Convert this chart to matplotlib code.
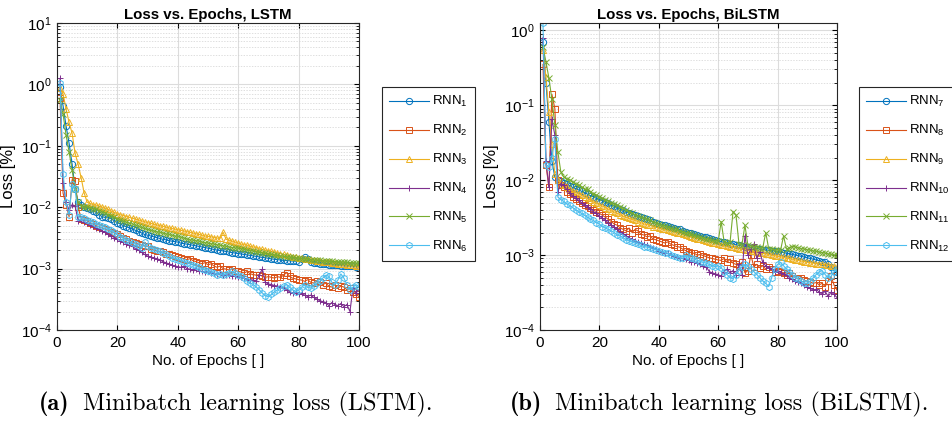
import numpy as np
import matplotlib
matplotlib.use("Agg")
import matplotlib.pyplot as plt
from matplotlib.ticker import LogLocator, NullFormatter

# =========================
# DATA  (loss values in units of 1e-3 %, epochs 1..100)
# =========================
epochs = np.arange(1, 101)

# --- LSTM ---
rnn1 = [900, 450, 210, 110, 50, 20, 12, 11, 10.2, 9.8,
        9.2, 8.8, 8.2, 7.5, 7.0, 6.8, 6.7, 6.5, 6.0, 5.6,
        5.3, 5.0, 4.8, 4.6, 4.4, 4.2, 4.0, 3.8, 3.6, 3.5,
        3.4, 3.3, 3.2, 3.1, 3.0, 2.95, 2.85, 2.8, 2.75, 2.7,
        2.6, 2.55, 2.5, 2.45, 2.4, 2.35, 2.3, 2.25, 2.2, 2.15,
        2.1, 2.05, 2.0, 1.97, 1.94, 1.9, 1.86, 1.82, 1.79, 1.76,
        1.73, 1.7, 1.67, 1.64, 1.61, 1.58, 1.55, 1.52, 1.5, 1.47,
        1.44, 1.42, 1.4, 1.38, 1.36, 1.35, 1.34, 1.33, 1.32, 1.30,
        1.45, 1.55, 1.42, 1.30, 1.25, 1.22, 1.20, 1.18, 1.17, 1.16,
        1.15, 1.14, 1.13, 1.12, 1.11, 1.10, 1.10, 1.09, 1.08, 1.10]
rnn2 = [600, 17, 11, 7, 28, 27, 10, 6.5, 6.3, 6.0,
        5.6, 5.3, 5.0, 4.8, 4.6, 4.4, 4.2, 4.0, 3.8, 3.6,
        3.4, 3.2, 3.0, 2.8, 2.75, 2.6, 2.5, 2.4, 2.35, 2.3,
        2.1, 2.0, 1.95, 1.9, 1.85, 1.75, 1.7, 1.65, 1.6, 1.55,
        1.5, 1.45, 1.4, 1.45, 1.35, 1.3, 1.25, 1.2, 1.25, 1.15,
        1.2, 1.1, 1.05, 1.1, 1.0, 0.98, 0.95, 1.0, 0.92, 0.9,
        0.88, 0.85, 0.9, 0.82, 0.8, 0.78, 0.8, 0.75, 0.72, 0.74,
        0.72, 0.7, 0.74, 0.72, 0.78, 0.86, 0.75, 0.7, 0.68, 0.66,
        0.65, 0.62, 0.66, 0.6, 0.58, 0.62, 0.6, 0.55, 0.58, 0.52,
        0.5, 0.55, 0.48, 0.52, 0.5, 0.45, 0.48, 0.42, 0.38, 0.35]
rnn3 = [880, 700, 400, 240, 160, 75, 50, 30, 17, 12,
        11.5, 11, 10.8, 10.4, 10.0, 9.6, 9.2, 8.6, 8.2, 7.8,
        7.5, 7.3, 7.0, 6.8, 6.6, 6.4, 6.2, 6.0, 5.8, 5.6,
        5.45, 5.3, 5.15, 5.0, 4.9, 4.75, 4.6, 4.5, 4.4, 4.3,
        4.2, 4.1, 4.0, 3.9, 3.8, 3.7, 3.6, 3.5, 3.4, 3.35,
        3.3, 3.2, 3.15, 3.1, 3.9, 3.0, 2.9, 2.8, 2.7, 2.6,
        2.5, 2.45, 2.4, 2.3, 2.25, 2.2, 2.1, 2.05, 2.0, 1.95,
        1.9, 1.85, 1.8, 1.75, 1.7, 1.65, 1.6, 1.56, 1.53, 1.5,
        1.47, 1.45, 1.42, 1.4, 1.37, 1.35, 1.33, 1.3, 1.28, 1.26,
        1.24, 1.22, 1.2, 1.19, 1.18, 1.16, 1.14, 1.13, 1.12, 1.11]
rnn4 = [1250, 25, 12, 9, 11, 10.5, 6, 6.2, 5.8, 5.5,
        5.2, 4.9, 4.6, 4.4, 4.1, 3.9, 3.6, 3.4, 3.2, 3.0,
        2.85, 2.7, 2.55, 2.4, 2.3, 2.1, 2.0, 1.85, 1.7, 1.6,
        1.55, 1.5, 1.45, 1.4, 1.3, 1.25, 1.2, 1.15, 1.1, 1.08,
        1.05, 1.1, 1.0, 0.98, 0.95, 1.0, 0.92, 0.9, 0.88, 0.9,
        0.86, 0.85, 0.82, 0.84, 0.8, 0.78, 0.8, 0.76, 0.75, 0.74,
        0.72, 0.7, 0.68, 0.66, 0.65, 0.62, 0.8, 0.98, 0.6, 0.56,
        0.55, 0.53, 0.52, 0.5, 0.48, 0.45, 0.42, 0.4, 0.41, 0.38,
        0.4, 0.37, 0.35, 0.37, 0.34, 0.32, 0.3, 0.29, 0.28, 0.25,
        0.28, 0.26, 0.25, 0.27, 0.24, 0.26, 0.2, 0.48, 0.4, 0.45]
rnn5 = [560, 330, 150, 80, 40, 20, 12, 10.5, 10.2, 10,
        9.8, 9.5, 9.2, 8.8, 8.4, 8.0, 7.6, 7.2, 6.8, 6.5,
        6.2, 5.9, 5.7, 5.5, 5.3, 5.1, 4.9, 4.7, 4.5, 4.35,
        4.2, 4.1, 4.0, 3.9, 3.8, 3.7, 3.6, 3.5, 3.4, 3.35,
        3.25, 3.15, 3.05, 2.95, 2.9, 2.85, 2.8, 2.7, 2.65, 2.6,
        2.55, 2.5, 2.45, 2.4, 2.35, 2.3, 2.25, 2.2, 2.17, 2.14,
        2.1, 2.05, 2.0, 1.96, 1.92, 1.88, 1.84, 1.8, 1.77, 1.74,
        1.7, 1.67, 1.64, 1.61, 1.58, 1.56, 1.54, 1.52, 1.5, 1.48,
        1.46, 1.44, 1.42, 1.4, 1.38, 1.37, 1.36, 1.34, 1.33, 1.32,
        1.31, 1.3, 1.29, 1.28, 1.27, 1.26, 1.25, 1.24, 1.23, 1.22]
rnn6 = [1050, 35, 12, 7.5, 24, 20, 7, 6.8, 6.6, 6.3,
        6.0, 5.7, 5.4, 5.1, 4.9, 4.7, 4.4, 4.2, 3.9, 3.6,
        3.3, 3.1, 2.9, 2.8, 2.6, 2.5, 2.3, 2.2, 2.7, 2.3,
        2.2, 2.1, 2.0, 1.9, 1.8, 1.7, 1.6, 1.5, 1.45, 1.4,
        1.35, 1.3, 1.25, 1.2, 1.15, 1.1, 1.05, 1.0, 0.95, 0.9,
        0.88, 0.85, 0.8, 0.82, 0.78, 0.82, 0.86, 0.9, 0.85, 0.8,
        0.75, 0.7, 0.62, 0.58, 0.55, 0.5, 0.45, 0.4, 0.36, 0.35,
        0.38, 0.42, 0.45, 0.48, 0.52, 0.55, 0.5, 0.45, 0.42, 0.45,
        0.5, 0.55, 0.5, 0.48, 0.52, 0.58, 0.62, 0.7, 0.78, 0.75,
        0.6, 0.55, 0.65, 0.82, 0.7, 0.55, 0.45, 0.5, 0.55, 0.5]

# --- BiLSTM ---
rnn7 = [700, 200, 60, 18, 11, 10, 9.6, 9.2, 8.8, 8.4,
        8.0, 7.7, 7.4, 7.1, 6.8, 6.5, 6.2, 6.0, 5.7, 5.5,
        5.3, 5.1, 4.9, 4.7, 4.5, 4.3, 4.1, 3.95, 3.8, 3.65,
        3.5, 3.4, 3.3, 3.2, 3.1, 3.0, 2.9, 2.8, 2.7, 2.6,
        2.55, 2.5, 2.45, 2.4, 2.3, 2.25, 2.2, 2.1, 2.05, 2.0,
        1.95, 1.9, 1.85, 1.8, 1.75, 1.72, 1.68, 1.65, 1.6, 1.55,
        1.5, 1.48, 1.45, 1.42, 1.4, 1.37, 1.35, 1.32, 1.3, 1.28,
        1.26, 1.24, 1.22, 1.2, 1.18, 1.17, 1.16, 1.15, 1.14, 1.12,
        1.1, 1.08, 1.06, 1.04, 1.02, 1.0, 0.98, 0.96, 0.94, 0.92,
        0.9, 0.88, 0.86, 0.84, 0.82, 0.8, 0.75, 0.7, 0.62, 0.6]
rnn8 = [350, 16, 8, 140, 90, 10, 8.5, 8.0, 7.0, 6.5,
        6.0, 5.6, 5.2, 5.0, 4.7, 4.5, 4.2, 4.0, 3.8, 3.6,
        3.4, 3.2, 3.0, 2.8, 2.6, 2.5, 2.3, 2.2, 2.1, 2.3,
        2.0, 2.2, 2.1, 1.9, 1.85, 1.75, 1.8, 1.65, 1.6, 1.55,
        1.5, 1.45, 1.5, 1.4, 1.35, 1.3, 1.28, 1.2, 1.15, 1.1,
        1.08, 1.05, 1.0, 1.02, 0.98, 0.95, 0.92, 0.9, 0.88, 0.86,
        0.85, 0.9, 0.8, 0.88, 0.78, 0.75, 0.72, 0.8, 0.58, 0.62,
        1.0, 0.7, 0.75, 0.68, 0.72, 0.65, 0.7, 0.66, 0.6, 0.62,
        0.6, 0.58, 0.55, 0.58, 0.52, 0.5, 0.48, 0.5, 0.46, 0.45,
        0.44, 0.42, 0.43, 0.4, 0.42, 0.38, 0.45, 0.52, 0.4, 0.34]
rnn9 = [550, 240, 80, 30, 12, 10, 9.0, 8.5, 8.0, 7.6,
        7.2, 6.9, 6.6, 6.3, 6.0, 5.7, 5.4, 5.1, 4.9, 4.7,
        4.5, 4.3, 4.1, 3.9, 3.75, 3.6, 3.45, 3.3, 3.2, 3.1,
        3.0, 2.9, 2.8, 2.7, 2.6, 2.55, 2.5, 2.4, 2.35, 2.3,
        2.25, 2.2, 2.15, 2.1, 2.05, 2.0, 1.95, 1.9, 1.85, 1.8,
        1.75, 1.7, 1.66, 1.62, 1.58, 1.54, 1.5, 1.47, 1.44, 1.41,
        1.38, 1.35, 1.32, 1.3, 1.27, 1.25, 1.22, 1.2, 1.18, 1.16,
        1.14, 1.12, 1.1, 1.08, 1.06, 1.04, 1.02, 1.0, 0.98, 0.96,
        0.95, 0.93, 0.91, 0.9, 0.88, 0.86, 0.85, 0.83, 0.82, 0.8,
        0.79, 0.78, 0.77, 0.76, 0.75, 0.74, 0.73, 0.72, 0.71, 0.7]
rnn10 = [800, 18, 8, 65, 40, 7, 9, 8.5, 7.5, 6.8,
         6.2, 5.8, 5.4, 5.0, 4.7, 4.4, 4.1, 3.8, 3.6, 3.3,
         3.1, 2.9, 2.7, 2.5, 2.35, 2.2, 2.05, 1.9, 1.8, 1.7,
         1.62, 1.55, 1.5, 1.45, 1.4, 1.35, 1.3, 1.25, 1.2, 1.15,
         1.1, 1.08, 1.05, 1.0, 0.98, 0.95, 0.92, 0.9, 0.88, 0.85,
         0.82, 0.8, 0.78, 0.75, 0.72, 0.7, 0.6, 0.58, 0.56, 0.55,
         0.52, 0.6, 0.65, 0.58, 0.62, 0.55, 0.75, 0.55, 1.8, 1.0,
         1.2, 1.4, 0.9, 1.1, 0.8, 0.72, 0.68, 0.65, 0.6, 0.62,
         0.58, 0.56, 0.54, 0.5, 0.48, 0.45, 0.44, 0.42, 0.4, 0.38,
         0.36, 0.34, 0.35, 0.32, 0.3, 0.33, 0.28, 0.32, 0.3, 0.27]
rnn11 = [600, 380, 230, 120, 55, 24, 13, 11, 10.5, 10,
         9.5, 9.0, 8.5, 8.0, 7.6, 7.5, 7.0, 6.6, 6.3, 6.0,
         5.7, 5.5, 5.3, 5.0, 4.8, 4.6, 4.4, 4.2, 4.0, 3.8,
         3.6, 3.45, 3.3, 3.2, 3.1, 3.0, 2.9, 2.8, 2.7, 2.6,
         2.5, 2.45, 2.4, 2.3, 2.25, 2.2, 2.1, 2.05, 2.0, 1.95,
         1.9, 1.85, 1.8, 1.75, 1.7, 1.66, 1.62, 1.58, 1.55, 1.52,
         2.8, 1.5, 1.45, 1.5, 3.8, 3.4, 1.4, 1.38, 2.5, 1.35,
         1.33, 1.3, 1.28, 1.26, 1.24, 2.0, 1.22, 1.2, 1.18, 1.17,
         1.16, 1.8, 1.2, 1.25, 1.3, 1.28, 1.25, 1.22, 1.2, 1.18,
         1.16, 1.14, 1.12, 1.1, 1.08, 1.06, 1.04, 1.02, 1.0, 1.0]
rnn12 = [1250, 16, 15, 20, 35, 6, 5.5, 5.2, 4.8, 4.6,
         4.3, 4.0, 3.8, 3.6, 3.4, 3.2, 3.0, 2.9, 2.7, 2.6,
         2.4, 2.3, 2.2, 2.1, 2.0, 1.85, 1.8, 1.7, 1.6, 1.55,
         1.5, 1.45, 1.4, 1.35, 1.3, 1.28, 1.25, 1.2, 1.18, 1.15,
         1.1, 1.08, 1.05, 1.0, 0.98, 0.95, 0.92, 0.9, 1.0, 0.95,
         0.9, 0.88, 0.85, 0.82, 0.8, 0.78, 0.75, 0.72, 0.7, 0.72,
         0.68, 0.6, 0.55, 0.5, 0.48, 0.55, 0.62, 0.7, 0.75, 0.72,
         0.65, 0.6, 0.55, 0.5, 0.45, 0.42, 0.38, 0.5, 0.65, 0.75,
         0.8, 0.72, 0.65, 0.6, 0.55, 0.5, 0.48, 0.45, 0.42, 0.42,
         0.45, 0.5, 0.55, 0.6, 0.62, 0.55, 0.5, 0.52, 0.6, 0.65]

lstm_series = [rnn1, rnn2, rnn3, rnn4, rnn5, rnn6]
bilstm_series = [rnn7, rnn8, rnn9, rnn10, rnn11, rnn12]
lstm_labels = [r"RNN$_{%d}$" % i for i in range(1, 7)]
bilstm_labels = [r"RNN$_{%d}$" % i for i in range(7, 13)]

# =========================
# STYLE
# =========================
COLORS = ["#0072BD", "#D95319", "#EDB120", "#7E2F8E", "#77AC30", "#4DBEEE"]
MARKERS = ["o", "s", "^", "+", "x", "h"]

plt.rcParams["font.family"] = ["Liberation Sans", "DejaVu Sans"]
plt.rcParams["mathtext.default"] = "regular"
plt.rcParams["font.size"] = 10

W, H = 952, 429
fig = plt.figure(figsize=(W / 100, H / 100), dpi=100)


def draw_panel(rect, series, labels, title, ytop, legend_xy):
    ax = fig.add_axes(rect)
    for vals, lab, c, m in zip(series, labels, COLORS, MARKERS):
        ax.plot(epochs, np.array(vals) * 1e-3, color=c, marker=m, ms=4.5,
                mfc="none", mew=0.7, lw=0.8, label=lab)
    ax.set_yscale("log")
    ax.set_xlim(0, 100)
    ax.set_ylim(1e-4, ytop)
    ax.set_xticks([0, 20, 40, 60, 80, 100])
    ax.yaxis.set_major_locator(LogLocator(base=10, numticks=10))
    ax.yaxis.set_minor_locator(LogLocator(base=10, subs=np.arange(2, 10), numticks=20))
    ax.yaxis.set_minor_formatter(NullFormatter())
    ax.grid(True, which="major", color="#dcdcdc", lw=0.8)
    ax.grid(True, which="minor", axis="y", color="#d2d2d2", lw=0.5, ls=(0, (2, 2)))
    ax.set_axisbelow(True)
    ax.tick_params(which="both", direction="in", top=True, right=True,
                   labelsize=11, pad=4)
    ax.tick_params(which="minor", length=2)
    for s in ax.spines.values():
        s.set_linewidth(0.8)
        s.set_color("#262626")
    ax.set_title(title, fontsize=10.8, fontweight="bold", pad=3)
    ax.set_xlabel("No. of Epochs [ ]", fontsize=11, labelpad=3)
    ax.set_ylabel("Loss [%]", fontsize=12, labelpad=3)
    leg = ax.legend(loc="upper left", bbox_to_anchor=legend_xy,
                    bbox_transform=fig.transFigure, fontsize=9.5,
                    frameon=True, fancybox=False, framealpha=1,
                    edgecolor="#262626", handlelength=3.0, labelspacing=1.05,
                    borderpad=0.55, handletextpad=0.25, borderaxespad=0)
    leg.get_frame().set_linewidth(0.8)
    return ax


draw_panel([57 / W, 1 - 330 / H, 302 / W, 307 / H], lstm_series, lstm_labels,
           "Loss vs. Epochs, LSTM", 10, (382 / W, 1 - 87 / H))
draw_panel([540 / W, 1 - 330 / H, 297 / W, 307 / H], bilstm_series, bilstm_labels,
           "Loss vs. Epochs, BiLSTM", 1.25, (859 / W, 1 - 87 / H))

# captions (LaTeX style)
cap_y = 1 - 404 / H
fig.text(39 / W, cap_y, "(a)", family="cmb10", fontsize=17.5, va="center")
fig.text(83 / W, cap_y, "Minibatch learning loss (LSTM).", family="cmr10", fontsize=17.5, va="center")
fig.text(510 / W, cap_y, "(b)", family="cmb10", fontsize=17.5, va="center")
fig.text(555 / W, cap_y, "Minibatch learning loss (BiLSTM).", family="cmr10", fontsize=17.5, va="center")

fig.savefig("out.png", dpi=100)
